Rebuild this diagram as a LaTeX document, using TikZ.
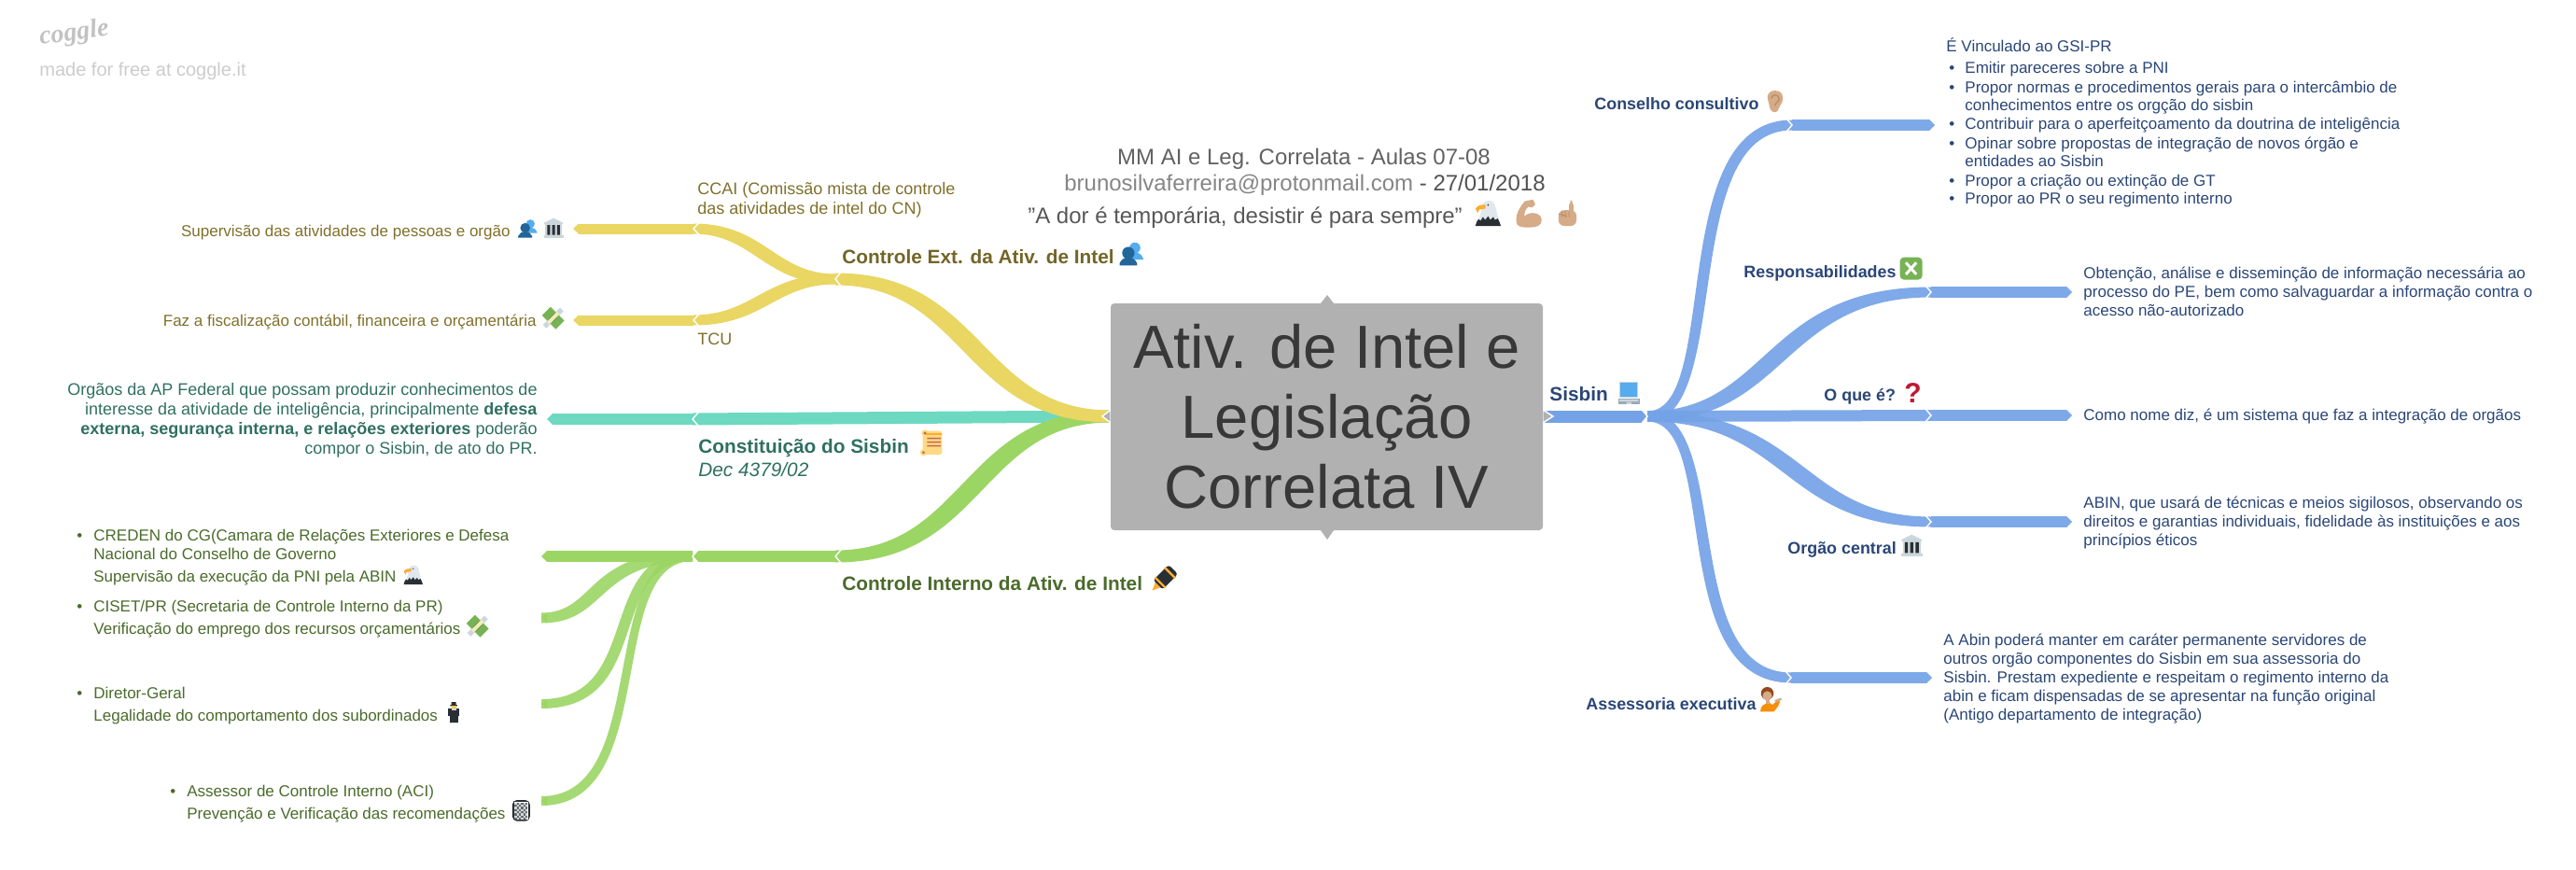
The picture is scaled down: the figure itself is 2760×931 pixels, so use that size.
\documentclass[tikz,border=0pt]{standalone}
\usepackage{fontspec}
\setmainfont{Liberation Sans}
\usetikzlibrary{calc}
\definecolor{ybr}{HTML}{E9D663}
\definecolor{tbr}{HTML}{6DD9C0}
\definecolor{gbr}{HTML}{9BD564}
\definecolor{bbr}{HTML}{74A2E6}
\definecolor{ytx}{HTML}{80702A}
\definecolor{ttx}{HTML}{2F7060}
\definecolor{gtx}{HTML}{4A6B2A}
\definecolor{btx}{HTML}{2A4677}
\definecolor{rootc}{HTML}{B1B1B1}
\definecolor{skin}{HTML}{D5AB88}
\definecolor{skind}{HTML}{B78B60}
\definecolor{ink}{HTML}{292F33}
\definecolor{lgray}{HTML}{CCD6DD}
\definecolor{skyb}{HTML}{55ACEE}
\definecolor{dblue}{HTML}{226699}
\definecolor{yorange}{HTML}{FFAC33}
\definecolor{gdark}{HTML}{77B255}
\definecolor{gmid}{HTML}{5C913B}
\definecolor{parch}{HTML}{FFD983}
\definecolor{rust}{HTML}{C1694F}
\definecolor{cream}{HTML}{F5EBBE}
\definecolor{facey}{HTML}{FFCC4D}
\definecolor{orng}{HTML}{F4900C}
\definecolor{hairc}{HTML}{96461E}
\definecolor{qred}{HTML}{BE1931}
\definecolor{eaglew}{HTML}{E1E8ED}
\definecolor{slate}{HTML}{99AAB5}
\tikzset{
  px/.style={x=0.5pt,y=-0.5pt},
  brn/.style={line width=#1*0.5pt,line cap=butt},
  body/.style={font=\fontsize{8.5}{10}\selectfont,inner sep=0pt},
  bodyb/.style={font=\fontsize{9}{10.5}\selectfont,inner sep=0pt},
  lhead/.style={font=\fontsize{10.4}{12.5}\selectfont\bfseries,inner sep=0pt},
  shead/.style={font=\fontsize{8.95}{11}\selectfont\bfseries,inner sep=0pt},
  fl/.style={text width=340pt,align=flush left,anchor=base west},
  fr/.style={text width=340pt,align=flush right,anchor=base east},
  rootnode/.style={fill=rootc,rounded corners=2pt,minimum width=231.5pt,minimum height=121.5pt,
    inner sep=0pt,text=black!78,align=center,font=\fontsize{32.6}{37.5}\selectfont},
  hd/.style={inner sep=0pt,anchor=base,font=\fontsize{12}{14}\selectfont},
  pics/busts/.style={code={
    \fill[skyb] (23,11) circle[radius=7.5];
    \fill[skyb] (13,27) .. controls (14,20) and (19,17) .. (23,17) .. controls (28,17) and (33,20) .. (35,27) -- cycle;
    \fill[dblue] (14,18) circle[radius=8.5];
    \fill[dblue] (2,35) -- (2,32) .. controls (4,27) and (9,24) .. (14,24) .. controls (19,24) and (24,27) .. (26,32) -- (26,35) -- cycle;}},
  pics/bank/.style={code={
    \fill[lgray] (18,1) -- (34,9) -- (34,12) -- (2,12) -- (2,9) -- cycle;
    \fill[lgray] (4,12) rectangle (32,31);
    \fill[ink] (7,13) rectangle (12,30) (15.5,13) rectangle (20.5,30) (24,13) rectangle (29,30);
    \fill[lgray] (1,31) rectangle (35,35);}},
  pics/money/.style={code={
    \fill[lgray,rotate around={45:(18,18)}] (-2,14) rectangle (38,22);
    \fill[gdark,rotate around={-45:(18,18)}] (2,8) rectangle (34,28);
    \fill[gmid,rotate around={-45:(18,18)}] (14,12) rectangle (22,24);
    \fill[cream,rotate around={45:(18,18)}] (6,15) rectangle (30,21);}},
  pics/eagle/.style={code={
    \fill[eaglew] (9,12) .. controls (9,5) and (14,1) .. (19,1) .. controls (26,1) and (28,8) .. (29,14) .. controls (30,22) and (34,28) .. (35,35) -- (1,35) .. controls (3,27) and (9,22) .. (9,12) -- cycle;
    \fill[ink] (1,35) .. controls (2,31) and (3,28) .. (5,26) -- (8,28) -- (11,23) -- (14,27) -- (18,22) -- (21,27) -- (25,23) -- (27,27) -- (31,25) .. controls (33,29) and (34,32) .. (35,35) -- cycle;
    \fill[yorange] (1,12) .. controls (4,7) and (10,6) .. (15,7) -- (14,12) -- (6,13) -- (4,18) -- cycle;
    \fill[ink] (18,7) circle[radius=1.2];}},
  pics/arm/.style={code={
    \fill[skin] (4,32) .. controls (0,22) and (8,9) .. (14,3) -- (24,1) -- (27,7) -- (23,11) -- (18,10) .. controls (14,14) and (13,18) .. (13,22) .. controls (20,15) and (35,17) .. (35,27) .. controls (35,34) and (28,36) .. (20,36) .. controls (12,36) and (6,36) .. (4,32) -- cycle;}},
  pics/finger/.style={code={
    \fill[skin,rounded corners=2.5pt] (20,1) rectangle (26,22);
    \fill[skin,rounded corners=3pt] (6,14) rectangle (30,35);
    \draw[skind,line width=0.4pt] (11,15) -- (11,23) (15,15) -- (15,24) (20,16) -- (20,23) (6,19) -- (17,22);}},
  pics/scroll/.style={code={
    \fill[parch,rounded corners=1.5pt] (7,2) rectangle (33,34);
    \fill[parch] (8,31) circle[radius=4.5];
    \fill[parch] (10,5) circle[radius=4.5];
    \fill[yorange] (10,5) rectangle (32,7);
    \fill[rust] (10,5) circle[radius=2] (8,31) circle[radius=2]
       (13,11) rectangle (31,13) (13,16) rectangle (31,18) (13,21) rectangle (31,23);}},
  pics/pen/.style={code={
    \begin{scope}[rotate around={-45:(18,18)}]
    \fill[ink,rounded corners=1.5pt] (9,-2) rectangle (27,28);
    \fill[yorange] (13,28) -- (18,39) -- (23,28) -- cycle;
    \fill[yorange] (8,3) rectangle (28,6);
    \fill[yorange] (8,22) rectangle (28,25);
    \end{scope}}},
  pics/standman/.style={code={
    \fill[ink] (12,7) rectangle (24,5) (14,5) rectangle (22,0);
    \fill[facey] (14,6) rectangle (22,11);
    \fill[ink] (8,12) rectangle (28,24);
    \fill[ink] (11,24) rectangle (25,35);
    \fill[lgray] (14,12) rectangle (22,15);
    \fill[lgray] (10,35) rectangle (26,37);}},
  pics/keys/.style={code={
    \fill[ink,rounded corners=2.5pt] (3,0) rectangle (33,36);
    \fill[white] (6,3) rectangle (30,34);
    \fill[gray!85!black] (7,4) rectangle (29,34);
    \foreach \ix in {0,...,5}{\foreach \iy in {0,...,7}{
      \pgfmathparse{int(mod(\ix+\iy,2))}
      \ifnum\pgfmathresult=0 \fill[lgray] ({7+\ix*3.7},{4+\iy*3.75}) rectangle +(3.7,3.75);\fi}}}},
  pics/laptop/.style={code={
    \fill[lgray] (3,0) rectangle (33,25);
    \fill[skyb] (5,2) rectangle (31,24);
    \fill[slate] (1,26) -- (35,26) -- (35,36) -- (1,36) -- cycle;
    \fill[lgray] (3,28) rectangle (33,31) (14,32) rectangle (22,35);}},
  pics/earicon/.style={code={
    \fill[skin] (18,0) .. controls (28,0) and (32,7) .. (31,15) .. controls (30,22) and (25,25) .. (24,30) .. controls (23,36) and (17,37) .. (13,34) .. controls (8,30) and (9,22) .. (6,14) .. controls (4,6) and (10,0) .. (18,0) -- cycle;
    \draw[skind,line width=0.6pt] (12,13) .. controls (12,6) and (24,5) .. (25,13) .. controls (25,19) and (18,20) .. (18,25);}},
  pics/xbox/.style={code={
    \fill[gdark,rounded corners=2pt] (1,1) rectangle (35,35);
    \draw[white,line width=1.5pt] (10,9) -- (26,27) (26,9) -- (10,27);}},
  pics/deskperson/.style={code={
    \fill[orng] (3,36) .. controls (3,27) and (8,23) .. (18,22) -- (22,25) -- (30,18) -- (34,20) .. controls (32,28) and (27,32) .. (24,36) -- cycle;
    \fill[skin] (25,18) -- (35,14) -- (37,17) -- (28,21) -- cycle;
    \fill[hairc] (14,7) circle[radius=10];
    \fill[skin] (14,11) circle[radius=7.5];
    \fill[skin] (11,18) rectangle (17,23);}}
}
\newcommand{\tipL}[3]{\fill[#3] (#1) ++(6,-#2/2) -- ++(-6,#2/2) -- ++(6,#2/2) -- cycle;}
\newcommand{\tipR}[3]{\fill[#3] (#1) ++(-6,-#2/2) -- ++(6,#2/2) -- ++(-6,#2/2) -- cycle;}
\newcommand{\chevL}[2]{\draw[white,line width=0.7pt] (#1) ++(6,-#2/2-1) -- ++(-6,#2/2+1) -- ++(6,#2/2+1);}
\newcommand{\chevR}[2]{\draw[white,line width=0.7pt] (#1) ++(-6,-#2/2-1) -- ++(6,#2/2+1) -- ++(-6,#2/2+1);}
% band: colour, opts, from, c1 x-offset, c2 x-offset, to, half height, middle widening
\newcommand{\band}[8]{\fill[#1,#2] ($(#3)+(0,-#7)$) .. controls ($(#3)+(#4,-#7)+(#8,0)$) and ($(#6)+(#5,-#7)+(#8,0)$) .. ($(#6)+(0,-#7)$) -- ($(#6)+(0,#7)$) .. controls ($(#6)+(#5,#7)-(#8,0)$) and ($(#3)+(#4,#7)-(#8,0)$) .. ($(#3)+(0,#7)$) -- cycle;}
\newcommand{\bul}[1]{\leavevmode\llap{•\hspace{#1}}}
\begin{document}
\begin{tikzpicture}[px]
\useasboundingbox (0,0) rectangle (2760,931);
% --- coordinates
\coordinate (rL) at (1190,446);
\coordinate (rR) at (1653,446);
\coordinate (yJ) at (895,299);
\coordinate (yA) at (743,245);
\coordinate (yB) at (743,343);
\coordinate (yA1) at (614,245);
\coordinate (yB1) at (614,343);
\coordinate (tJ) at (742,449);
\coordinate (t1) at (586,449);
\coordinate (gJ) at (895,596);
\coordinate (gK) at (742,596);
\coordinate (g0) at (580,596);
\coordinate (g1) at (580,662);
\coordinate (g2) at (580,754);
\coordinate (g3) at (580,858);
\coordinate (bJ) at (1765,446);
\coordinate (cA) at (1920,134);
\coordinate (cA1) at (2073,134);
\coordinate (cB) at (2069,313);
\coordinate (cB1) at (2220,313);
\coordinate (cC) at (2069,445);
\coordinate (cC1) at (2220,445);
\coordinate (cD) at (2069,559);
\coordinate (cD1) at (2220,559);
\coordinate (cE) at (1919,726);
\coordinate (cE1) at (2070,726);
% --- branches
\draw[tbr,brn=13] (tJ) -- (rL);
\draw[tbr,brn=12,shorten <=3pt] (t1) -- (tJ);
\tipL{t1}{12}{tbr}
\tipL{tJ}{13}{tbr}
\chevL{tJ}{12}
\band{gbr}{}{gJ}{150}{-150}{rL}{6.5}{-10}
\draw[gbr,brn=12,shorten <=3pt] (gK) -- (gJ);
\draw[gbr,brn=12,shorten <=3pt] (g0) -- (gK);
\band{gbr}{opacity=.9}{g1}{65}{-110}{gK}{5.5}{-6}
\band{gbr}{opacity=.9}{g2}{116}{-100}{gK}{5}{-6}
\band{gbr}{opacity=.9}{g3}{124}{-100}{gK}{5}{-5}
\tipL{g0}{12}{gbr}\tipL{g1}{11}{gbr}\tipL{g2}{10}{gbr}\tipL{g3}{10}{gbr}
\tipL{gK}{12}{gbr}\tipL{gJ}{13}{gbr}
\chevL{gK}{12}\chevL{gJ}{12}
\band{ybr}{}{yJ}{150}{-150}{rL}{6.5}{10}
\band{ybr}{}{yA}{70}{-70}{yJ}{5.5}{6}
\band{ybr}{}{yB}{70}{-70}{yJ}{5.5}{-6}
\draw[ybr,brn=11,shorten <=3pt] (yA1) -- (yA);
\draw[ybr,brn=11,shorten <=3pt] (yB1) -- (yB);
\tipL{yA1}{11}{ybr}\tipL{yB1}{11}{ybr}
\chevL{yA}{11}\chevL{yB}{11}\chevL{yJ}{13}
% blue
\draw[bbr,brn=13,shorten >=3pt] (rR) -- (bJ);
\tipR{bJ}{13}{bbr}
\band{bbr}{opacity=.92}{bJ}{86}{-130}{cA}{5.5}{-7}
\band{bbr}{opacity=.92}{bJ}{86}{-129}{cE}{5.5}{7}
\band{bbr}{opacity=.92}{bJ}{140}{-170}{cB}{5.5}{-10}
\band{bbr}{opacity=.92}{bJ}{160}{-150}{cD}{5.5}{10}
\draw[bbr,brn=12,opacity=.92] (bJ) -- (cC);
\foreach \a/\b in {cA/cA1,cB/cB1,cC/cC1,cD/cD1,cE/cE1}{
  \draw[bbr!93!white,brn=12,shorten >=3pt] (\a) -- (\b);
  \tipR{\b}{12}{bbr!93!white}
  \chevR{\a}{12}
}
\chevR{bJ}{13}
% --- root
\fill[rootc] (1415,325) -- (1422,316) -- (1429,325) -- cycle;
\fill[rootc] (1415,568) -- (1422,578) -- (1429,568) -- cycle;
\fill[rootc,draw=white,line width=0.7pt] (1190,439) -- (1181,446) -- (1190,453) -- cycle;
\fill[rootc,draw=white,line width=0.7pt] (1653,439) -- (1664,446) -- (1653,453) -- cycle;
\node[rootnode] (root) at (1421.5,446.5) {Ativ. de Intel e\\Legislação\\Correlata IV};
% --- header
\node[inner sep=0pt,anchor=base west,rotate=8,text=black!24,font=\fontsize{14}{16}\selectfont\bfseries\itshape] (logo) at (43,48) {\fontspec{Liberation Serif}coggle};
\node[inner sep=0pt,anchor=base west,text=black!20,font=\fontsize{10}{12}\selectfont] (free) at (42,82) {made for free at coggle.it};
\node[hd,text=black!62] (h1) at (1397,176) {MM AI e Leg. Correlata - Aulas 07-08};
\node[hd,text=black!48] (h2) at (1398,204) {brunosilvaferreira@protonmail.com \textcolor{black!68}{- 27/01/2018}};
\node[hd,text=black!66] (h3) at (1334,239) {"A dor é temporária, desistir é para sempre"};
\pic[scale=.8] at (1580,214) {eagle};
\pic[scale=.85] at (1622,213) {arm};
\pic[scale=.8] at (1665,214) {finger};
% --- yellow text
\node[body,fr,text=ytx] (ya) at (547,253) {Supervisão das atividades de pessoas e orgão};
\pic[scale=.62] at (554,233) {busts};
\pic[scale=.62] at (582,233) {bank};
\node[body,fr,text=ytx] (yb) at (575,349) {Faz a fiscalização contábil, financeira e orçamentária};
\pic[scale=.65] at (581,329) {money};
\node[bodyb,fl,text=ytx] (yc) at (747,208) {CCAI (Comissão mista de controle\\das atividades de intel do CN)};
\node[bodyb,fl,text=ytx] (yd) at (747,369) {TCU};
\node[lhead,anchor=base west,text=ytx!90!black] (ye) at (902,282) {Controle Ext. da Ativ. de Intel};
\pic[scale=.78] at (1198,257) {busts};
% --- teal text
\node[bodyb,fr,text=ttx] (ta) at (576,423) {Orgãos da AP Federal que possam produzir conhecimentos de\\interesse da atividade de inteligência, principalmente \textbf{defesa}\\\textbf{externa, segurança interna, e relações exteriores} poderão\\compor o Sisbin, de ato do PR.};
\node[lhead,anchor=base west,text=ttx] (tb) at (748,485) {Constituição do Sisbin};
\pic[scale=.8] at (983,460) {scroll};
\node[inner sep=0pt,anchor=base west,text=ttx,font=\fontsize{10.4}{12}\selectfont\itshape] (tc) at (748,510) {Dec 4379/02};
% --- green text
\node[lhead,anchor=base west,text=gtx] (ga) at (902,632) {Controle Interno da Ativ. de Intel};
\pic[scale=.78] at (1232,607) {pen};
\node[body,fl,text=gtx] (gb) at (100,579) {\bul{6pt}CREDEN do CG(Camara de Relações Exteriores e Defesa\\Nacional do Conselho de Governo\\[2pt]Supervisão da execução da PNI pela ABIN};
\pic[scale=.6] at (432,605) {eagle};
\node[body,fl,text=gtx] (gc) at (100,655) {\bul{6pt}CISET/PR (Secretaria de Controle Interno da PR)\\[2pt]Verificação do emprego dos recursos orçamentários};
\pic[scale=.65] at (500,659) {money};
\node[body,fl,text=gtx] (gd) at (100,748) {\bul{6pt}Diretor-Geral\\[2pt]Legalidade do comportamento dos subordinados};
\pic[scale=.62] at (475,752) {standman};
\node[body,fl,text=gtx] (ge) at (200,853) {\bul{6pt}Assessor de Controle Interno (ACI)\\[2pt]Prevenção e Verificação das recomendações};
\pic[scale=.63] at (547,857) {keys};
% --- blue text
\node[lhead,anchor=base west,text=btx] (ba) at (1660,429) {Sisbin};
\pic[scale=.68] at (1733,409) {laptop};
\node[shead,anchor=base west,text=btx] (bb) at (1708,118) {Conselho consultivo};
\pic[scale=.65] at (1890,97) {earicon};
\node[body,fl,text=btx] (bc) at (2085,56) {É Vinculado ao GSI-PR};
\node[body,fl,text=btx] (bd) at (2105,79) {\bul{5.5pt}Emitir pareceres sobre a PNI\\\bul{5.5pt}Propor normas e procedimentos gerais para o intercâmbio de\\conhecimentos entre os orgção do sisbin\\\bul{5.5pt}Contribuir para o aperfeitçoamento da doutrina de inteligência\\\bul{5.5pt}Opinar sobre propostas de integração de novos órgão e\\entidades ao Sisbin\\\bul{5.5pt}Propor a criação ou extinção de GT\\\bul{5.5pt}Propor ao PR o seu regimento interno};
\node[shead,anchor=base west,text=btx] (be) at (1868,297) {Responsabilidades};
\pic[scale=.7] at (2035,275) {xbox};
\node[body,fl,text=btx] (bf) at (2232,298) {Obtenção, análise e disseminção de informação necessária ao\\processo do PE, bem como salvaguardar a informação contra o\\acesso não-autorizado};
\node[shead,anchor=base west,text=btx] (bg) at (1954,429) {O que é?};
\node[inner sep=0pt,anchor=base west,text=qred,font=\fontsize{15}{16}\selectfont\bfseries] (bq) at (2040,431) {?};
\node[body,fl,text=btx] (bh) at (2232,450) {Como nome diz, é um sistema que faz a integração de orgãos};
\node[shead,anchor=base west,text=btx] (bi) at (1915,593) {Orgão central};
\pic[scale=.68] at (2036,572) {bank};
\node[body,fl,text=btx] (bj) at (2232,544) {ABIN, que usará de técnicas e meios sigilosos, observando os\\direitos e garantias individuais, fidelidade às instituições e aos\\princípios éticos};
\node[shead,anchor=base west,text=btx] (bk) at (1699,760) {Assessoria executiva};
\pic[scale=.68] at (1884,738) {deskperson};
\node[body,fl,text=btx] (bl) at (2082,691) {A Abin poderá manter em caráter permanente servidores de\\outros orgão componentes do Sisbin em sua assessoria do\\Sisbin. Prestam expediente e respeitam o regimento interno da\\abin e ficam dispensadas de se apresentar na função original\\(Antigo departamento de integração)};
\end{tikzpicture}
\end{document}
